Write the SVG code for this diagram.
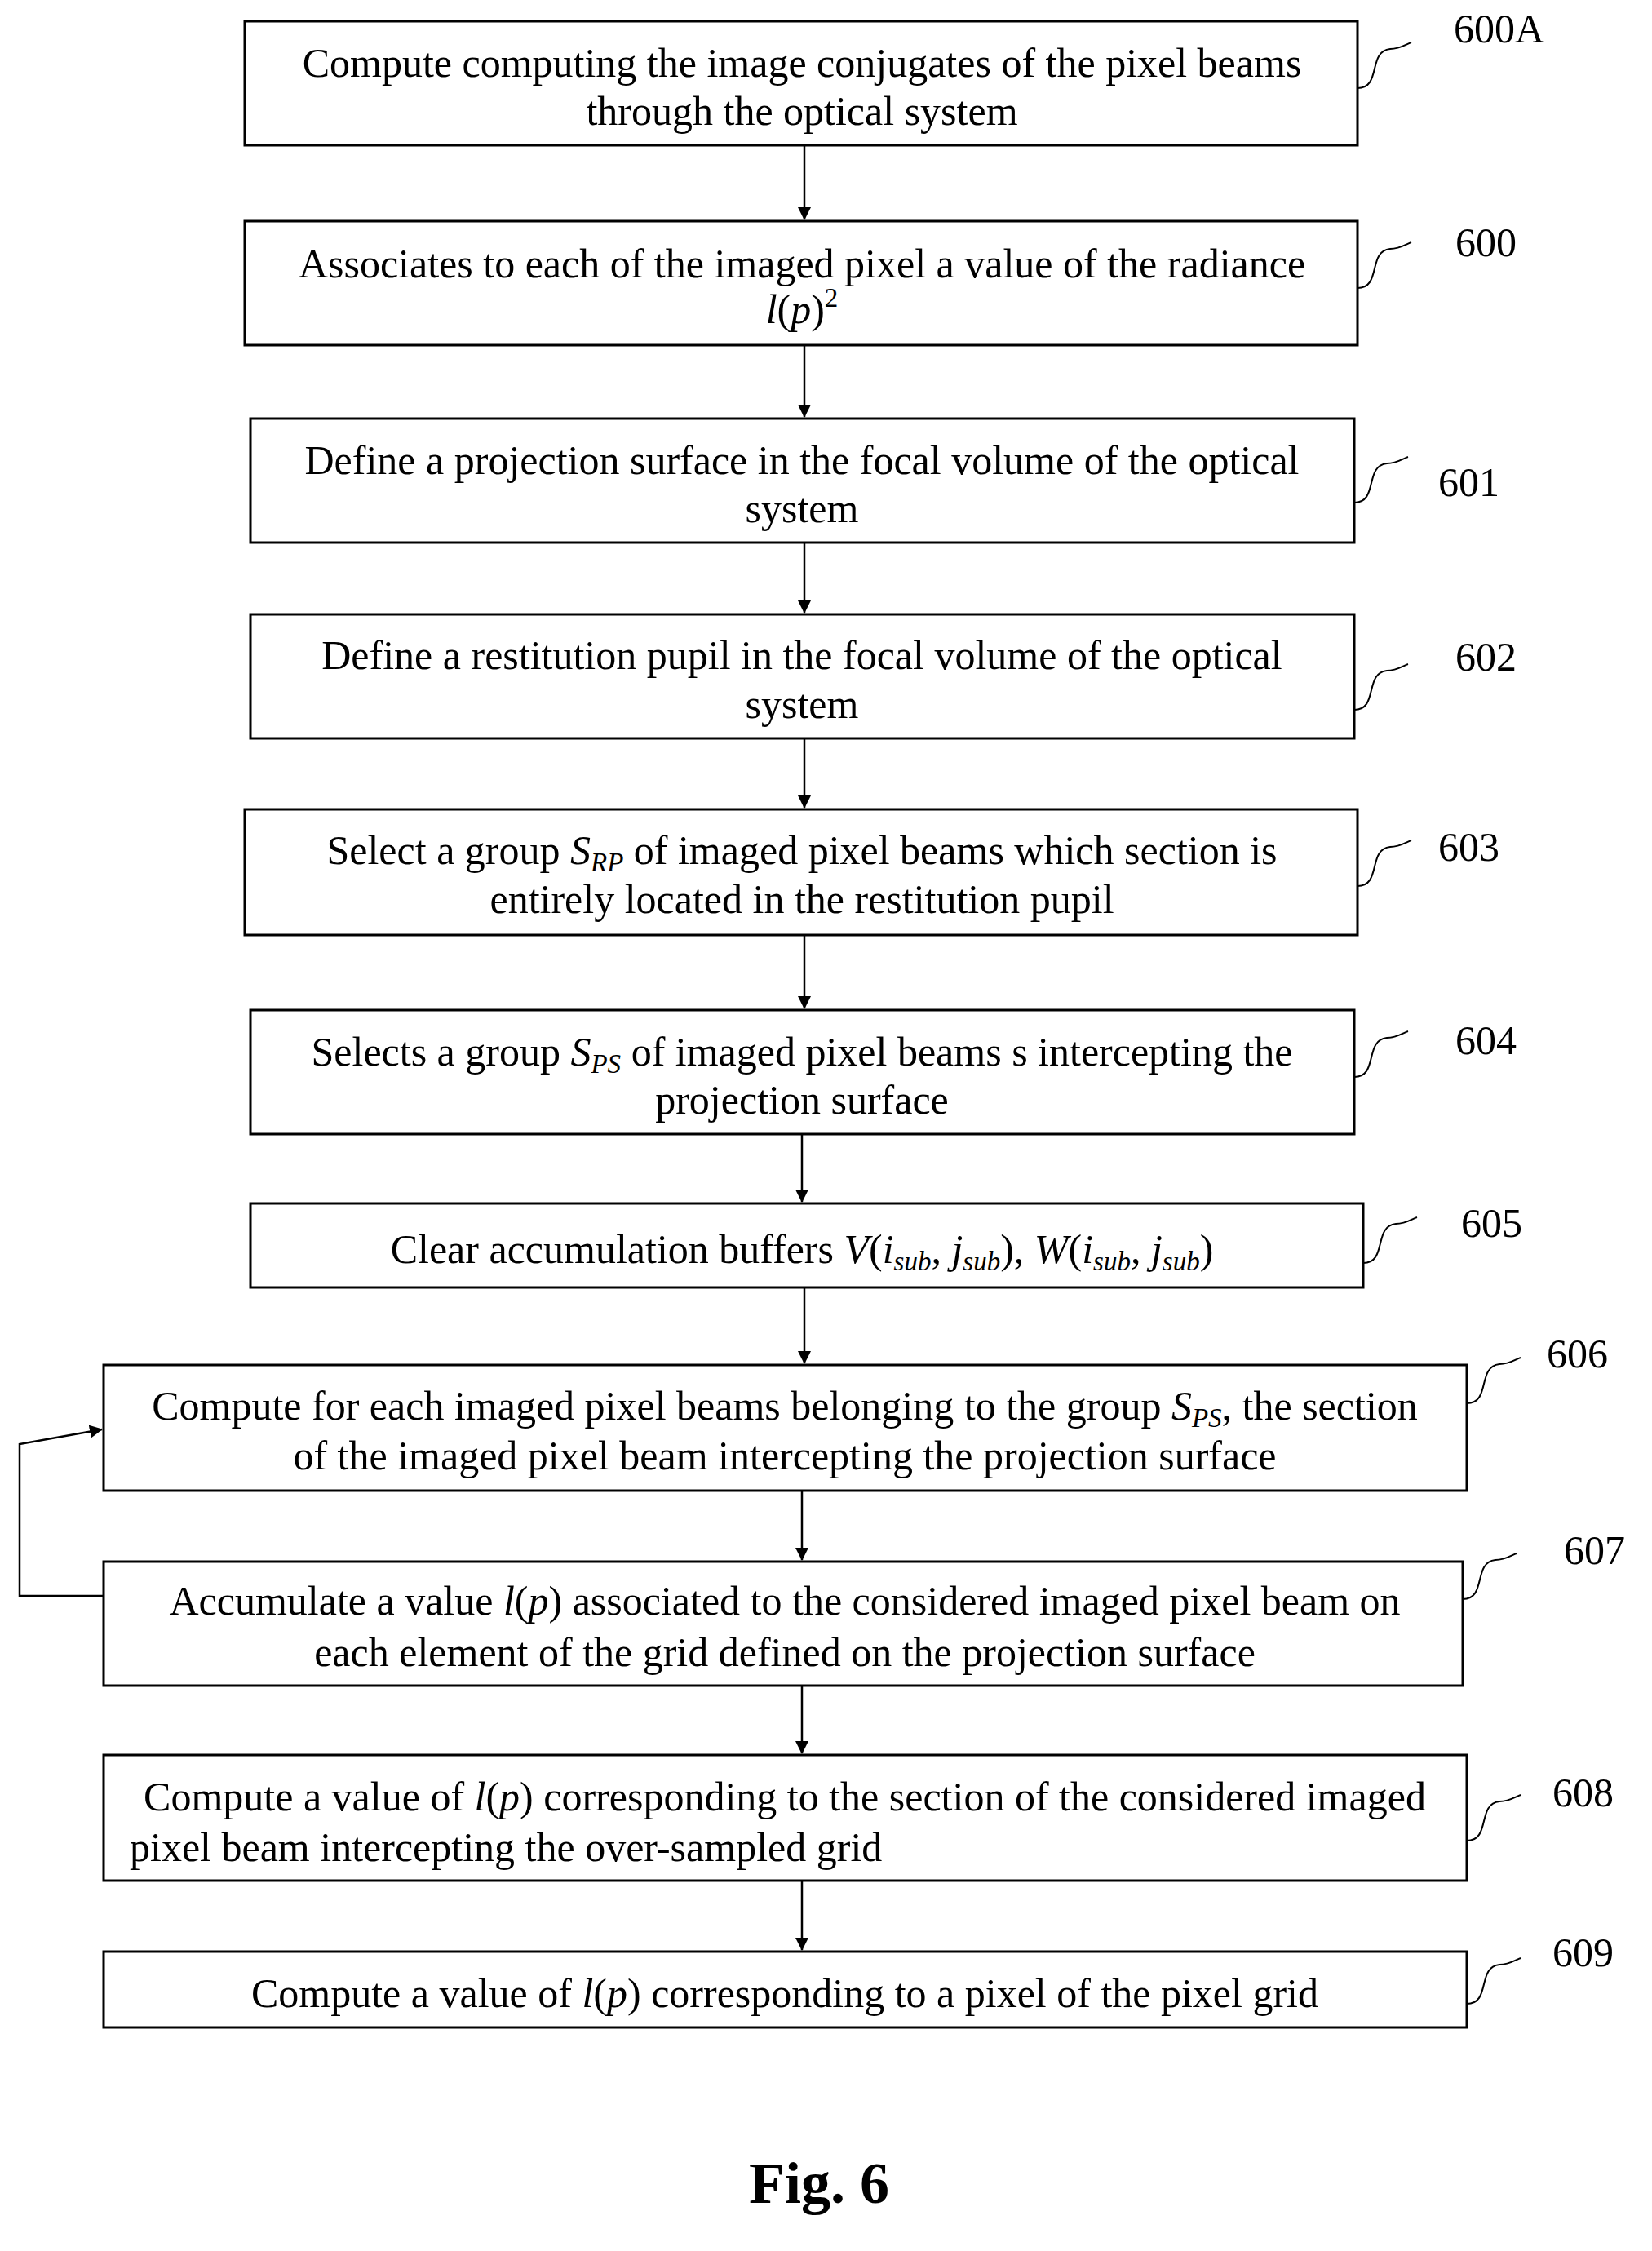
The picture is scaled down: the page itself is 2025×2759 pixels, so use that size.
<svg xmlns="http://www.w3.org/2000/svg" width="2025" height="2759" viewBox="0 0 2025 2759">
<defs>
<marker id="ah" markerWidth="16" markerHeight="16" refX="15" refY="8" orient="auto" markerUnits="userSpaceOnUse" viewBox="0 0 16 16"><path d="M0,0 L16,8 L0,16 z" fill="#000"/></marker>
</defs>
<style>
rect{fill:#fff;stroke:#000;stroke-width:3}
text{font-family:"Liberation Serif","Times New Roman",serif;font-size:50px;fill:#000;text-anchor:middle}
.lbl{text-anchor:start;font-size:50px}
.sq{fill:none;stroke:#000;stroke-width:2}
.c{fill:none;stroke:#000;stroke-width:2.5;marker-end:url(#ah)}
.i{font-style:italic}
.s{font-size:33px;font-style:italic}
</style>
<rect width="2025" height="2759" style="fill:#fff;stroke:none"/>
<g id="n600A"><rect x="300" y="26" width="1364" height="152"/><text x="983" y="94">Compute computing the image conjugates of the pixel beams</text><text x="983" y="153">through the optical system</text><path class="sq" d="M1664,108 c30,0 12,-45 40,-48 c12,0 20,-6 26,-8"/><text class="lbl" x="1782" y="52">600A</text></g>
<g id="n600"><rect x="300" y="271" width="1364" height="152"/><text x="983" y="340">Associates to each of the imaged pixel a value of the radiance</text><text x="983" y="396"><tspan class="i">l</tspan>(<tspan class="i">p</tspan>)<tspan font-size="33" dy="-20">2</tspan></text><path class="sq" d="M1664,353 c30,0 12,-45 40,-48 c12,0 20,-6 26,-8"/><text class="lbl" x="1784" y="314">600</text></g>
<g id="n601"><rect x="307" y="513" width="1353" height="152"/><text x="983" y="581">Define a projection surface in the focal volume of the optical</text><text x="983" y="640">system</text><path class="sq" d="M1660,616 c30,0 12,-45 40,-48 c12,0 20,-6 26,-8"/><text class="lbl" x="1763" y="608">601</text></g>
<g id="n602"><rect x="307" y="753" width="1353" height="152"/><text x="983" y="820">Define a restitution pupil in the focal volume of the optical</text><text x="983" y="880">system</text><path class="sq" d="M1660,870 c30,0 12,-45 40,-48 c12,0 20,-6 26,-8"/><text class="lbl" x="1784" y="822">602</text></g>
<g id="n603"><rect x="300" y="992" width="1364" height="154"/><text x="983" y="1059">Select a group <tspan class="i">S</tspan><tspan class="s" dy="9">RP</tspan><tspan dy="-9"> of imaged pixel beams which section is</tspan></text><text x="983" y="1119">entirely located in the restitution pupil</text><path class="sq" d="M1664,1086 c30,0 12,-45 40,-48 c12,0 20,-6 26,-8"/><text class="lbl" x="1763" y="1055">603</text></g>
<g id="n604"><rect x="307" y="1238" width="1353" height="152"/><text x="983" y="1306">Selects a group <tspan class="i">S</tspan><tspan class="s" dy="9">PS</tspan><tspan dy="-9"> of imaged pixel beams s intercepting the</tspan></text><text x="983" y="1365">projection surface</text><path class="sq" d="M1660,1320 c30,0 12,-45 40,-48 c12,0 20,-6 26,-8"/><text class="lbl" x="1784" y="1292">604</text></g>
<g id="n605"><rect x="307" y="1475" width="1364" height="103"/><text x="983" y="1548">Clear accumulation buffers <tspan class="i">V</tspan>(<tspan class="i">i</tspan><tspan class="s" dy="9">sub</tspan><tspan dy="-9">, </tspan><tspan class="i">j</tspan><tspan class="s" dy="9">sub</tspan><tspan dy="-9">), </tspan><tspan class="i">W</tspan>(<tspan class="i">i</tspan><tspan class="s" dy="9">sub</tspan><tspan dy="-9">, </tspan><tspan class="i">j</tspan><tspan class="s" dy="9">sub</tspan><tspan dy="-9">)</tspan></text><path class="sq" d="M1671,1548 c30,0 12,-45 40,-48 c12,0 20,-6 26,-8"/><text class="lbl" x="1791" y="1516">605</text></g>
<g id="n606"><rect x="127" y="1673" width="1671" height="154"/><text x="962" y="1740">Compute for each imaged pixel beams belonging to the group <tspan class="i">S</tspan><tspan class="s" dy="9">PS</tspan><tspan dy="-9">, the section</tspan></text><text x="962" y="1801">of the imaged pixel beam intercepting the projection surface</text><path class="sq" d="M1798,1720 c30,0 12,-45 40,-48 c12,0 20,-6 26,-8"/><text class="lbl" x="1896" y="1676">606</text></g>
<g id="n607"><rect x="127" y="1914" width="1666" height="152"/><text x="962" y="1979">Accumulate a value <tspan class="i">l</tspan>(<tspan class="i">p</tspan>) associated to the considered imaged pixel beam on</text><text x="962" y="2042">each element of the grid defined on the projection surface</text><path class="sq" d="M1793,1960 c30,0 12,-45 40,-48 c12,0 20,-6 26,-8"/><text class="lbl" x="1917" y="1917">607</text></g>
<g id="n608"><rect x="127" y="2151" width="1671" height="154"/><text x="962" y="2219">Compute a value of <tspan class="i">l</tspan>(<tspan class="i">p</tspan>) corresponding to the section of the considered imaged</text><text class="lbl" x="159" y="2281">pixel beam intercepting the over-sampled grid</text><path class="sq" d="M1798,2256 c30,0 12,-45 40,-48 c12,0 20,-6 26,-8"/><text class="lbl" x="1903" y="2214">608</text></g>
<g id="n609"><rect x="127" y="2392" width="1671" height="93"/><text x="962" y="2460">Compute a value of <tspan class="i">l</tspan>(<tspan class="i">p</tspan>) corresponding to a pixel of the pixel grid</text><text class="lbl" x="1903" y="2410">609</text><path class="sq" d="M1798,2456 c30,0 12,-45 40,-48 c12,0 20,-6 26,-8"/></g>
<g id="connectors">
<line class="c" x1="986" y1="178" x2="986" y2="269"/>
<line class="c" x1="986" y1="423" x2="986" y2="511"/>
<line class="c" x1="986" y1="665" x2="986" y2="751"/>
<line class="c" x1="986" y1="905" x2="986" y2="990"/>
<line class="c" x1="986" y1="1146" x2="986" y2="1236"/>
<line class="c" x1="983" y1="1390" x2="983" y2="1473"/>
<line class="c" x1="986" y1="1578" x2="986" y2="1671"/>
<line class="c" x1="983" y1="1827" x2="983" y2="1912"/>
<line class="c" x1="983" y1="2066" x2="983" y2="2149"/>
<line class="c" x1="983" y1="2305" x2="983" y2="2390"/>
<polyline class="c" points="127,1956 24,1956 24,1770 125,1752"/>
</g>
<text x="1004" y="2700" style="font-weight:bold;font-size:72px">Fig. 6</text>
</svg>
